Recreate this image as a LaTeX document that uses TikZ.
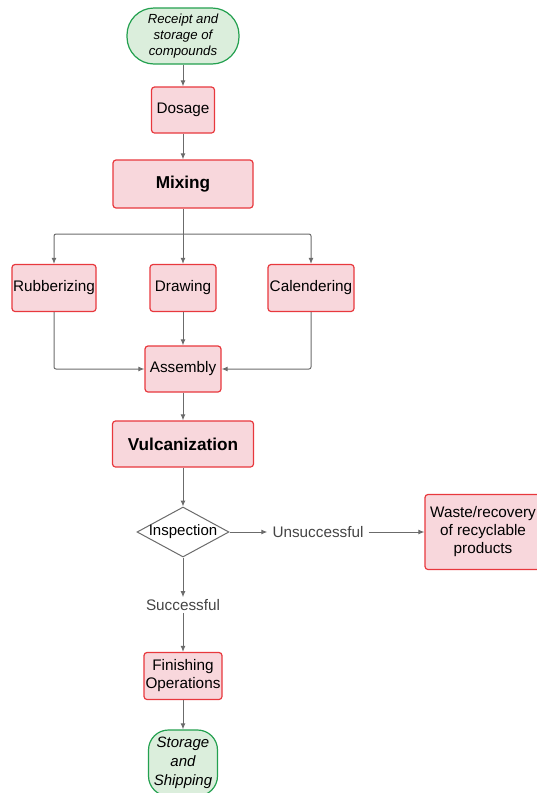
\documentclass[tikz,border=0pt]{standalone}
\usepackage{fontspec}
\setmainfont{Liberation Sans}
\usetikzlibrary{arrows.meta,shapes.geometric}
\definecolor{pinkfill}{HTML}{F8D7DC}
\definecolor{redline}{HTML}{E8383D}
\definecolor{greenfill}{HTML}{DBEEDC}
\definecolor{greenline}{HTML}{23A04F}
\definecolor{arrowgray}{HTML}{6B6B6B}
\definecolor{labelgray}{HTML}{444444}
\tikzset{
  x=1pt,y=-1pt,
  procbox/.style={draw=redline,fill=pinkfill,line width=1.2pt,rounded corners=3pt,
    inner sep=0pt,align=center,font=\fontsize{15.3}{18}\selectfont},
  termbox/.style={draw=greenline,fill=greenfill,line width=1.2pt,
    inner sep=0pt,align=center},
  arr/.style={draw=arrowgray,line width=1pt,-{Latex[length=6pt,width=5pt]}},
  lbl/.style={text=labelgray,font=\fontsize{15.3}{18}\selectfont,inner sep=5pt},
  boldbox/.style={font=\bfseries\fontsize{17.2}{20}\selectfont},
}
\begin{document}
\begin{tikzpicture}
\useasboundingbox (0,0) rectangle (537,793);
\node[termbox,rounded corners=27pt,minimum width=112pt,minimum height=56pt,
  font=\itshape\fontsize{13.2}{16}\selectfont] (start) at (183,36) {Receipt and\\storage of\\compounds};
\node[procbox,minimum width=63pt,minimum height=46pt] (dos) at (183,110) {Dosage};
\node[procbox,boldbox,minimum width=140pt,minimum height=48pt] (mix) at (183,184) {Mixing};
\coordinate (split) at (183,234);
\node[procbox,minimum width=84pt,minimum height=47pt] (rub) at (54,288) {Rubberizing};
\node[procbox,minimum width=66pt,minimum height=47pt] (draw) at (183,288) {Drawing};
\node[procbox,minimum width=86pt,minimum height=47pt] (cal) at (311,288) {Calendering};
\node[procbox,minimum width=76pt,minimum height=46pt] (asm) at (183,369) {Assembly};
\node[procbox,boldbox,minimum width=141pt,minimum height=46pt] (vul) at (183,444) {Vulcanization};
\node[draw=arrowgray,fill=white,line width=1pt,shape=diamond,inner sep=0pt,
  minimum width=92pt,minimum height=50pt,font=\fontsize{15}{18}\selectfont] (insp) at (183,532) {\makebox[0pt]{Inspection}};
\node[lbl] (uns) at (318,532) {Unsuccessful};
\node[procbox,minimum width=116pt,minimum height=75pt] (waste) at (483,532) {Waste/recovery\\of recyclable\\products};
\node[lbl,inner sep=2pt] (succ) at (183,605) {Successful};
\node[procbox,minimum width=78pt,minimum height=47pt] (fin) at (183,676) {Finishing\\Operations};
\node[termbox,rounded corners=20pt,minimum width=69pt,minimum height=66pt,
  font=\itshape\fontsize{15}{19}\selectfont] (store) at (183,763) {Storage\\and\\Shipping};

\draw[arr] (start) -- (dos);
\draw[arr] (dos) -- (mix);
\draw[arr] (mix) -- (draw);
\draw[arr,rounded corners=2pt] (split) -| (rub.north);
\draw[arr,rounded corners=2pt] (split) -| (cal.north);
\draw[arr] (draw) -- (asm);
\draw[arr,rounded corners=2pt] (rub.south) |- (asm.west);
\draw[arr,rounded corners=2pt] (cal.south) |- (asm.east);
\draw[arr] (asm) -- (vul);
\draw[arr] (vul) -- (insp.north);
\draw[arr] (insp.east) -- (uns.west);
\draw[arr] (uns.east) -- (waste.west);
\draw[arr] (insp.south) -- (succ.north);
\draw[arr] (succ.south) -- (fin.north);
\draw[arr] (fin) -- (store);
\end{tikzpicture}
\end{document}
